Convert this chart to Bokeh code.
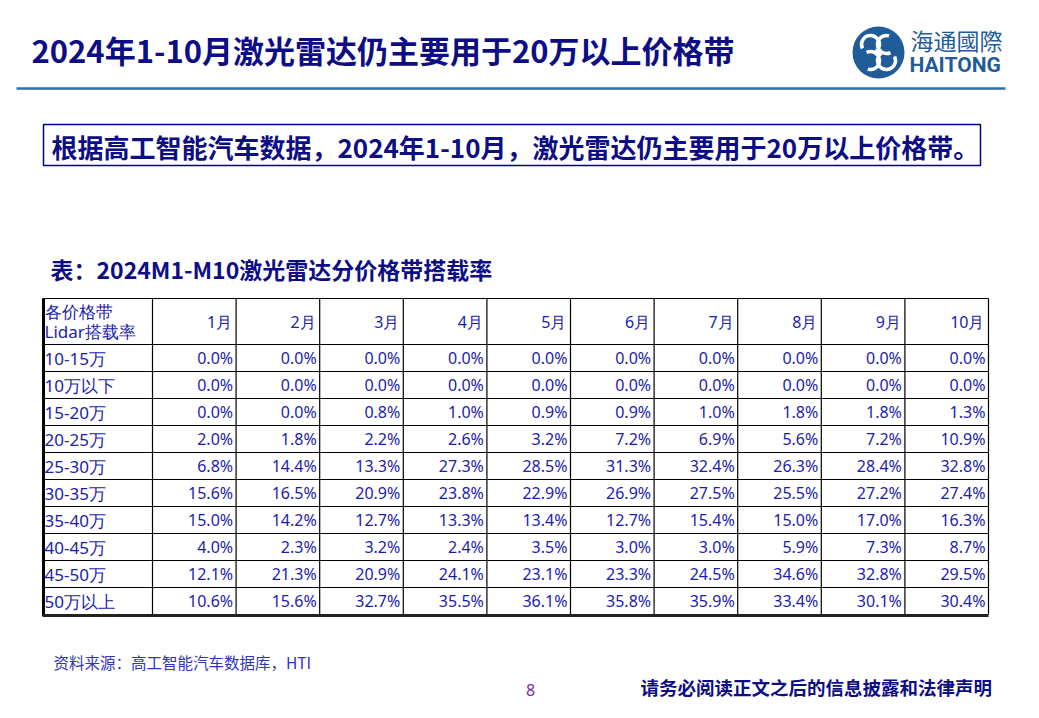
from bokeh.plotting import figure
from bokeh.models import Range1d, ColumnDataSource
from bokeh.core.properties import value
from bokeh.embed import file_html
from bokeh.resources import INLINE

# ---------------- data ----------------
title_text = "2024年1-10月激光雷达仍主要用于20万以上价格带"
box_text = "根据高工智能汽车数据，2024年1-10月，激光雷达仍主要用于20万以上价格带。"
caption_text = "表：2024M1-M10激光雷达分价格带搭载率"
source_text = "资料来源：高工智能汽车数据库，HTI"
footer_text = "请务必阅读正文之后的信息披露和法律声明"
page_no = "8"

header_lines = ["各价格带", "Lidar搭载率"]
months = ["1月", "2月", "3月", "4月", "5月", "6月", "7月", "8月", "9月", "10月"]
categories = ["10-15万", "10万以下", "15-20万", "20-25万", "25-30万",
              "30-35万", "35-40万", "40-45万", "45-50万", "50万以上"]

r_10_15 = [0.0, 0.0, 0.0, 0.0, 0.0, 0.0, 0.0, 0.0, 0.0, 0.0]
r_lt10 = [0.0, 0.0, 0.0, 0.0, 0.0, 0.0, 0.0, 0.0, 0.0, 0.0]
r_15_20 = [0.0, 0.0, 0.8, 1.0, 0.9, 0.9, 1.0, 1.8, 1.8, 1.3]
r_20_25 = [2.0, 1.8, 2.2, 2.6, 3.2, 7.2, 6.9, 5.6, 7.2, 10.9]
r_25_30 = [6.8, 14.4, 13.3, 27.3, 28.5, 31.3, 32.4, 26.3, 28.4, 32.8]
r_30_35 = [15.6, 16.5, 20.9, 23.8, 22.9, 26.9, 27.5, 25.5, 27.2, 27.4]
r_35_40 = [15.0, 14.2, 12.7, 13.3, 13.4, 12.7, 15.4, 15.0, 17.0, 16.3]
r_40_45 = [4.0, 2.3, 3.2, 2.4, 3.5, 3.0, 3.0, 5.9, 7.3, 8.7]
r_45_50 = [12.1, 21.3, 20.9, 24.1, 23.1, 23.3, 24.5, 34.6, 32.8, 29.5]
r_gt50 = [10.6, 15.6, 32.7, 35.5, 36.1, 35.8, 35.9, 33.4, 30.1, 30.4]
rows = [r_10_15, r_lt10, r_15_20, r_20_25, r_25_30, r_30_35, r_35_40, r_40_45, r_45_50, r_gt50]

# ---------------- layout ----------------
W, H = 1023, 702
p = figure(width=W, height=H, output_backend="svg", toolbar_location=None,
           x_range=Range1d(0, W), y_range=Range1d(H, 0),
           min_border=0, outline_line_color=None)
p.axis.visible = False
p.grid.visible = False
p.background_fill_color = "white"
p.border_fill_color = "white"

CJK = value("Noto Sans CJK SC")
NUM = value("Noto Sans")
NAVY = "#0d0d85"
BLUE = "#1c1cae"

# title
p.text(x=[31], y=[49], text=[title_text], text_font=CJK, text_font_size="31px",
       text_font_style="bold", text_color=NAVY, text_baseline="middle", text_align="left")
p.segment(x0=[16], y0=[88], x1=[1005], y1=[88], line_color="#2f6eb0", line_width=2.5)

# logo
cx, cy = 878, 52
p.circle(x=[cx], y=[cy], radius=26, fill_color="#1f5c99", line_color=None)
for dx, dy, a0 in [(-8, -8, 0.0), (8, -8, 1.5708), (8, 8, 3.1416), (-8, 8, 4.7124)]:
    p.arc(x=[cx + dx], y=[cy + dy], radius=9, start_angle=a0 - 0.3, end_angle=a0 + 3.6,
          line_color="white", line_width=3.5)
p.circle(x=[cx], y=[cy], radius=4, fill_color="white", line_color=None)
p.text(x=[910], y=[39], text=["海通國際"], text_font=CJK, text_font_size="23px",
       text_color="#1f5c99", text_baseline="middle", text_align="left")
p.text(x=[909], y=[64], text=["HAITONG"], text_font=value("Roboto"), text_font_size="21px",
       text_font_style="bold", text_color="#1f5c99", text_baseline="middle", text_align="left")

# boxed statement
p.quad(left=[43], right=[980], top=[124], bottom=[165], fill_color=None,
       line_color="#00008b", line_width=1.5)
p.text(x=[51], y=[146], text=[box_text], text_font=CJK, text_font_size="26px",
       text_font_style="bold", text_color=NAVY, text_baseline="middle", text_align="left")

# caption
p.text(x=[50], y=[268], text=[caption_text], text_font=CJK, text_font_size="23px",
       text_font_style="bold", text_color=NAVY, text_baseline="middle", text_align="left")

# table geometry
x_left = 42
first_w = 110
col_w = (988 - x_left - first_w) / len(months)
t_top = 298
h_bot = 344
row_h = 27
col_edges = [x_left + first_w + i * col_w for i in range(len(months) + 1)]
row_edges = [h_bot + i * row_h for i in range(len(categories) + 1)]
t_bot = row_edges[-1]

# grid lines
hx0, hy0, hx1, hy1 = [], [], [], []
for y in [t_top] + row_edges[:-1]:
    hx0.append(x_left); hx1.append(col_edges[-1]); hy0.append(y); hy1.append(y)
p.segment(x0=hx0, y0=hy0, x1=hx1, y1=hy1, line_color="black", line_width=1.2)
vx = col_edges
p.segment(x0=vx, y0=[t_top] * len(vx), x1=vx, y1=[t_bot] * len(vx),
          line_color="black", line_width=1.2)
p.segment(x0=[x_left + 1], y0=[t_top], x1=[x_left + 1], y1=[t_bot + 1.5],
          line_color="black", line_width=3)
p.segment(x0=[x_left], y0=[t_bot + 1], x1=[col_edges[-1]], y1=[t_bot + 1],
          line_color="#222222", line_width=3)

# header
p.text(x=[x_left + 2] * 2, y=[311, 331], text=header_lines, text_font=NUM,
       text_font_size="17px", text_color=BLUE, text_baseline="middle", text_align="left")
p.text(x=[e - 4 for e in col_edges[1:]], y=[(t_top + h_bot) / 2] * len(months), text=months,
       text_font=NUM, text_font_size="16px", text_color=BLUE,
       text_baseline="middle", text_align="right")

# row labels
row_mid = [(row_edges[i] + row_edges[i + 1]) / 2 for i in range(len(categories))]
p.text(x=[x_left + 2] * len(categories), y=row_mid, text=categories, text_font=NUM,
       text_font_size="17px", text_color=BLUE, text_baseline="middle", text_align="left")

# cells
xs, ys, ts = [], [], []
for i, r in enumerate(rows):
    for j, v in enumerate(r):
        xs.append(col_edges[j + 1] - 3)
        ys.append(row_mid[i])
        ts.append(f"{v:.1f}%")
cells = ColumnDataSource(dict(x=xs, y=ys, t=ts))
p.text(x="x", y="y", text="t", source=cells, text_font=NUM, text_font_size="16px",
       text_color=BLUE, text_baseline="middle", text_align="right")

# source, page number, footer
p.text(x=[53], y=[661], text=[source_text], text_font=CJK, text_font_size="15.5px",
       text_color="#3333c0", text_baseline="middle", text_align="left")
p.text(x=[530], y=[689], text=[page_no], text_font=NUM, text_font_size="16px",
       text_color="#7030a0", text_baseline="middle", text_align="center")
p.text(x=[640], y=[686], text=[footer_text], text_font=CJK, text_font_size="18.5px",
       text_font_style="bold", text_color=NAVY, text_baseline="middle", text_align="left")

open("out.html", "w").write(file_html(p, INLINE))
